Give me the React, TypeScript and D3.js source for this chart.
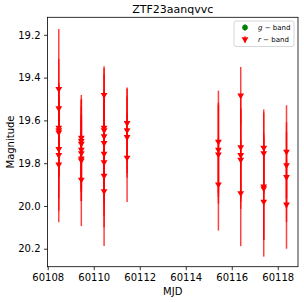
import React, { useEffect, useRef } from 'react';
import * as d3 from 'd3';

const mjd = [
  60108.48, 60108.48, 60108.48, 60108.48, 60108.48, 60108.48, 60108.48, 60108.48,
  60109.46, 60109.46, 60109.46, 60109.46, 60109.46, 60109.46, 60109.46, 60109.46,
  60110.45, 60110.45, 60110.45, 60110.45, 60110.45, 60110.45, 60110.45, 60110.45, 60110.45,
  60111.45, 60111.45, 60111.45, 60111.45,
  60115.42, 60115.42, 60115.42, 60115.42,
  60116.39, 60116.39, 60116.39, 60116.39, 60116.39,
  60117.39, 60117.39, 60117.39, 60117.39, 60117.39,
  60118.38, 60118.38, 60118.38, 60118.38,
];
const mag = [
  19.453, 19.543, 19.634, 19.646, 19.656, 19.734, 19.762, 19.806,
  19.681, 19.696, 19.709, 19.737, 19.753, 19.778, 19.787, 19.877,
  19.481, 19.634, 19.646, 19.674, 19.706, 19.756, 19.796, 19.859, 19.931,
  19.612, 19.646, 19.678, 19.774,
  19.700, 19.737, 19.759, 19.899,
  19.484, 19.725, 19.762, 19.784, 19.940,
  19.728, 19.753, 19.909, 19.918, 19.980,
  19.746, 19.809, 19.865, 19.993,
];
const magErr = [
  0.28, 0.23, 0.2, 0.22, 0.21, 0.23, 0.26, 0.27,
  0.2, 0.19, 0.21, 0.2, 0.18, 0.2, 0.19, 0.217,
  0.134, 0.25, 0.29, 0.22, 0.24, 0.23, 0.25, 0.24, 0.256,
  0.16, 0.2, 0.19, 0.208,
  0.239, 0.22, 0.23, 0.216,
  0.134, 0.24, 0.22, 0.23, 0.248,
  0.179, 0.19, 0.25, 0.24, 0.257,
  0.217, 0.2, 0.21, 0.207,
];

const xTicks = [60108, 60110, 60112, 60114, 60116, 60118];
const yTicks = [19.2, 19.4, 19.6, 19.8, 20.0, 20.2];
const bands = ['g', 'r'];
const bandColors = ['green', 'red'];

const FONT = 'DejaVu Sans, sans-serif';

function App() {
  const ref = useRef<SVGSVGElement>(null);

  useEffect(() => {
    const svg = d3.select(ref.current);
    svg.selectAll('*').remove();

    const left = 47.5, right = 298, top = 17.3, bottom = 266.7;

    const x = d3.scaleLinear().domain([60107.99, 60118.88]).range([left, right]);
    const y = d3.scaleLinear().domain([19.118, 20.284]).range([top, bottom]);

    svg.append('rect').attr('width', 304).attr('height', 302).attr('fill', 'white');

    // axes
    const xAxis = svg.append('g')
      .attr('transform', `translate(0, ${bottom})`)
      .call(d3.axisBottom(x).tickValues(xTicks).tickFormat(d3.format('d')).tickSize(3.5).tickPadding(3.5));
    const yAxis = svg.append('g')
      .attr('transform', `translate(${left}, 0)`)
      .call(d3.axisLeft(y).tickValues(yTicks).tickFormat(d3.format('.1f')).tickSize(3.5).tickPadding(3.5));
    [xAxis, yAxis].forEach((a) => {
      a.select('.domain').remove();
      a.selectAll('text').attr('font-family', FONT).attr('font-size', 10).attr('fill', 'black');
      a.selectAll('line').attr('stroke', 'black').attr('stroke-width', 0.8);
    });

    // error bars
    const idx = d3.range(mag.length);
    svg.append('g')
      .selectAll('line')
      .data(idx)
      .enter()
      .append('line')
      .attr('x1', (i) => x(mjd[i]))
      .attr('x2', (i) => x(mjd[i]))
      .attr('y1', (i) => y(mag[i] - magErr[i]))
      .attr('y2', (i) => y(mag[i] + magErr[i]))
      .attr('stroke', 'red')
      .attr('stroke-width', 1.5)
      .attr('stroke-opacity', 0.75);

    const tri = d3.symbol().type(d3.symbolTriangle).size(20);
    svg.append('g')
      .selectAll('path')
      .data(idx)
      .enter()
      .append('path')
      .attr('d', tri)
      .attr('transform', (i) => `translate(${x(mjd[i])}, ${y(mag[i])}) rotate(180)`)
      .attr('fill', 'red');

    // frame
    svg.append('rect')
      .attr('x', left).attr('y', top)
      .attr('width', right - left).attr('height', bottom - top)
      .attr('fill', 'none').attr('stroke', 'black').attr('stroke-width', 0.8);

    // labels
    svg.append('text')
      .attr('x', (left + right) / 2).attr('y', 13)
      .attr('text-anchor', 'middle')
      .attr('font-family', FONT).attr('font-size', 11)
      .text('ZTF23aanqvvc');

    svg.append('text')
      .attr('x', (left + right) / 2).attr('y', 295)
      .attr('text-anchor', 'middle')
      .attr('font-family', FONT).attr('font-size', 10)
      .text('MJD');

    svg.append('text')
      .attr('transform', `translate(14, ${(top + bottom) / 2}) rotate(-90)`)
      .attr('text-anchor', 'middle')
      .attr('font-family', FONT).attr('font-size', 10)
      .text('Magnitude');

    // legend
    const lg = svg.append('g').attr('transform', 'translate(234, 21)');
    lg.append('rect')
      .attr('width', 60).attr('height', 25.5).attr('rx', 2)
      .attr('fill', 'white').attr('fill-opacity', 0.8)
      .attr('stroke', '#cccccc').attr('stroke-width', 0.8);
    bands.forEach((b, i) => {
      const row = lg.append('g').attr('transform', `translate(11, ${6.5 + i * 11.8})`);
      row.append('line')
        .attr('y1', -3.5).attr('y2', 3.5)
        .attr('stroke', bandColors[i]).attr('stroke-width', 1.2).attr('stroke-opacity', 0.7);
      if (b === 'g') {
        row.append('circle').attr('r', 2.8).attr('fill', bandColors[i]);
      } else {
        row.append('path').attr('d', tri).attr('transform', 'rotate(180)').attr('fill', bandColors[i]);
      }
      const t = row.append('text')
        .attr('x', 13).attr('y', 2.6)
        .attr('font-family', FONT).attr('font-size', 7);
      t.append('tspan').attr('font-style', 'italic').text(b);
      t.append('tspan').text(' \u2212 band');
    });
  }, []);

  return (
    <div id='layout'>
      <svg
        ref={ref}
        width={304}
        height={302}
        style={{ position: 'absolute', left: 0, top: 0 }}
      />
    </div>
  );
}

export default App;
